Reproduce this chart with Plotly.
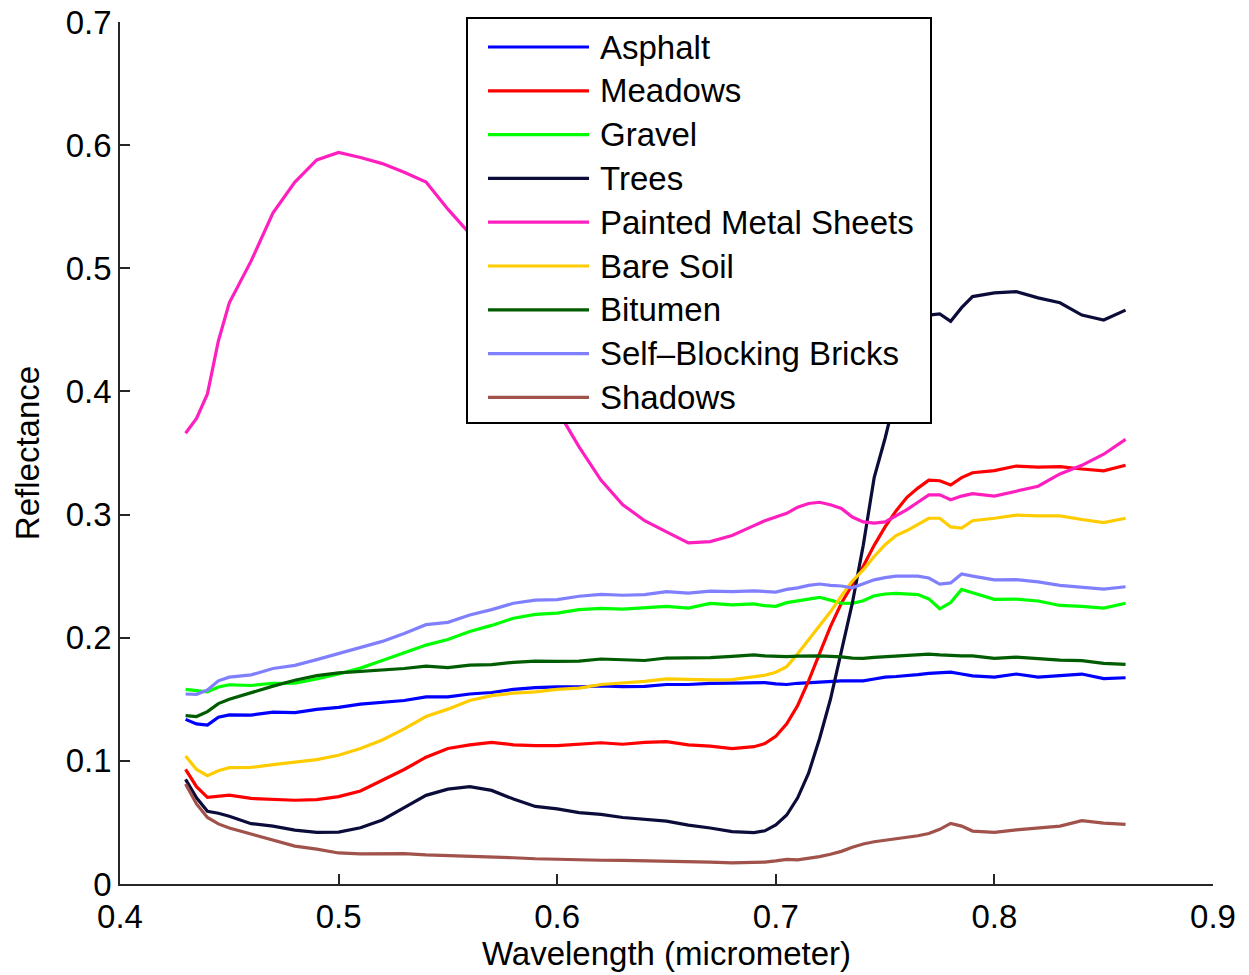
import plotly.graph_objects as go

# Wavelength samples (micrometer)
wavelength = [0.430, 0.435, 0.440, 0.445, 0.450, 0.460, 0.470, 0.480, 0.490, 0.500,
              0.510, 0.520, 0.530, 0.540, 0.550, 0.560, 0.570, 0.580, 0.590, 0.600,
              0.610, 0.620, 0.630, 0.640, 0.650, 0.660, 0.670, 0.680, 0.690, 0.695,
              0.700, 0.705, 0.710, 0.715, 0.720, 0.725, 0.730, 0.735, 0.740, 0.745,
              0.750, 0.755, 0.760, 0.765, 0.770, 0.775, 0.780, 0.785, 0.790, 0.800,
              0.810, 0.820, 0.830, 0.840, 0.850, 0.860]

asphalt = [0.1337, 0.130, 0.129, 0.1355, 0.1373, 0.1372, 0.1395, 0.1392, 0.1418, 0.1435,
           0.146, 0.1475, 0.149, 0.152, 0.152, 0.1543, 0.1555, 0.158, 0.1595, 0.160,
           0.160, 0.1608, 0.1603, 0.1605, 0.162, 0.162, 0.163, 0.1632, 0.1637, 0.1635,
           0.1625, 0.162, 0.163, 0.1635, 0.164, 0.165, 0.165, 0.165, 0.165, 0.1665,
           0.168, 0.1685, 0.169, 0.170, 0.171, 0.1715, 0.172, 0.1705, 0.169, 0.168,
           0.1705, 0.168, 0.169, 0.1705, 0.1668, 0.1675]

meadows = [0.093, 0.079, 0.0704, 0.071, 0.0722, 0.0695, 0.069, 0.068, 0.0685, 0.071,
           0.0755, 0.084, 0.093, 0.103, 0.110, 0.113, 0.115, 0.113, 0.1123, 0.1123,
           0.1135, 0.1147, 0.1135, 0.115, 0.1156, 0.113, 0.112, 0.110, 0.1115, 0.114,
           0.120, 0.130, 0.145, 0.165, 0.187, 0.209, 0.228, 0.243, 0.258, 0.275,
           0.290, 0.303, 0.314, 0.3215, 0.328, 0.3275, 0.324, 0.330, 0.334, 0.3357,
           0.3394, 0.3385, 0.339, 0.337, 0.3355, 0.340]

gravel = [0.158, 0.1572, 0.156, 0.160, 0.1618, 0.1612, 0.163, 0.1632, 0.1665, 0.1705,
          0.1753, 0.1815, 0.188, 0.194, 0.1985, 0.205, 0.210, 0.2158, 0.219, 0.220,
          0.2228, 0.2238, 0.2232, 0.2245, 0.2255, 0.224, 0.2279, 0.2266, 0.2274, 0.226,
          0.2255, 0.2285, 0.230, 0.2315, 0.2328, 0.2305, 0.228, 0.2279, 0.230, 0.234,
          0.2355, 0.236, 0.2355, 0.235, 0.2315, 0.2235, 0.2285, 0.2392, 0.2365, 0.2312,
          0.2314, 0.2298, 0.2262, 0.2255, 0.224, 0.228]

trees = [0.085, 0.070, 0.059, 0.0575, 0.055, 0.049, 0.047, 0.0438, 0.042, 0.0422,
         0.0457, 0.052, 0.062, 0.072, 0.077, 0.079, 0.076, 0.069, 0.063, 0.061,
         0.058, 0.0565, 0.054, 0.0525, 0.051, 0.0478, 0.0455, 0.0425, 0.0417, 0.0432,
         0.048, 0.056, 0.070, 0.090, 0.118, 0.150, 0.190, 0.228, 0.275, 0.330,
         0.362, 0.398, 0.428, 0.450, 0.462, 0.463, 0.457, 0.468, 0.477, 0.480,
         0.481, 0.476, 0.472, 0.462, 0.458, 0.466]

painted_metal = [0.366, 0.378, 0.398, 0.441, 0.472, 0.506, 0.545, 0.570, 0.588, 0.594,
                 0.590, 0.585, 0.578, 0.570, 0.548, 0.528, 0.498, 0.462, 0.423, 0.385,
                 0.355, 0.328, 0.308, 0.295, 0.286, 0.277, 0.278, 0.283, 0.291, 0.295,
                 0.298, 0.301, 0.306, 0.309, 0.310, 0.308, 0.305, 0.298, 0.294, 0.293,
                 0.294, 0.299, 0.304, 0.310, 0.316, 0.316, 0.312, 0.315, 0.317, 0.315,
                 0.319, 0.323, 0.333, 0.340, 0.349, 0.361]

bare_soil = [0.104, 0.093, 0.088, 0.092, 0.0945, 0.0947, 0.097, 0.099, 0.101, 0.1045,
             0.110, 0.117, 0.126, 0.136, 0.142, 0.149, 0.153, 0.155, 0.156, 0.158,
             0.159, 0.162, 0.1632, 0.1645, 0.1665, 0.166, 0.1657, 0.166, 0.168, 0.1695,
             0.172, 0.1765, 0.187, 0.198, 0.209, 0.221, 0.234, 0.246, 0.255, 0.266,
             0.2755, 0.283, 0.287, 0.292, 0.297, 0.297, 0.290, 0.289, 0.295, 0.297,
             0.2996, 0.299, 0.299, 0.296, 0.2935, 0.297]

bitumen = [0.1367, 0.136, 0.140, 0.1465, 0.150, 0.1555, 0.1607, 0.1655, 0.1692, 0.1714,
           0.1727, 0.1735, 0.175, 0.177, 0.1757, 0.1778, 0.1782, 0.180, 0.181, 0.1808,
           0.181, 0.1827, 0.1818, 0.1815, 0.1835, 0.1835, 0.1838, 0.1848, 0.186, 0.1852,
           0.1846, 0.1846, 0.185, 0.1852, 0.1852, 0.1848, 0.1845, 0.1835, 0.1833, 0.184,
           0.1846, 0.1846, 0.1852, 0.186, 0.1867, 0.186, 0.1853, 0.1852, 0.1852, 0.1832,
           0.1842, 0.1827, 0.1818, 0.1814, 0.1792, 0.1784]

bricks = [0.1543, 0.154, 0.1575, 0.165, 0.168, 0.1698, 0.175, 0.1775, 0.1822, 0.187,
          0.1917, 0.197, 0.2035, 0.2106, 0.2125, 0.2185, 0.2228, 0.228, 0.2305, 0.231,
          0.2337, 0.2352, 0.2345, 0.235, 0.2374, 0.2362, 0.2378, 0.2375, 0.2381, 0.2375,
          0.237, 0.2392, 0.2405, 0.2425, 0.2436, 0.2425, 0.242, 0.2405, 0.244, 0.247,
          0.2488, 0.250, 0.250, 0.250, 0.2485, 0.2435, 0.2445, 0.2517, 0.250, 0.247,
          0.2472, 0.2453, 0.2425, 0.241, 0.2395, 0.2414]

shadows = [0.0812, 0.065, 0.054, 0.0488, 0.0455, 0.0405, 0.0352, 0.0308, 0.0283, 0.0252,
           0.0244, 0.0245, 0.0247, 0.0237, 0.0232, 0.0227, 0.0221, 0.0213, 0.0205, 0.020,
           0.0195, 0.0193, 0.0192, 0.019, 0.0188, 0.0183, 0.0178, 0.0171, 0.0172, 0.0178,
           0.0188, 0.020, 0.0196, 0.0208, 0.0222, 0.0242, 0.0265, 0.0298, 0.0325, 0.0343,
           0.0355, 0.0368, 0.0379, 0.0392, 0.041, 0.0444, 0.0492, 0.047, 0.043, 0.042,
           0.0439, 0.0453, 0.047, 0.0514, 0.0495, 0.0484]

class_names = ["Asphalt", "Meadows", "Gravel", "Trees", "Painted Metal Sheets",
               "Bare Soil", "Bitumen", "Self\u2013Blocking Bricks", "Shadows"]
class_values = [asphalt, meadows, gravel, trees, painted_metal,
                bare_soil, bitumen, bricks, shadows]
class_colors = ["#0000ff", "#ff0000", "#00ff00", "#0c0c3a", "#ff1fbf",
                "#ffcc00", "#005c00", "#8080ff", "#a0524b"]

FONT = "Liberation Sans, Arial, Helvetica, sans-serif"
FS = 33
LW = 3.2

fig = go.Figure()
for name, vals, col in zip(class_names, class_values, class_colors):
    fig.add_trace(go.Scatter(x=wavelength, y=vals, mode="lines", name=name,
                             line=dict(color=col, width=LW), showlegend=False))

# Hand-built legend box with long line samples
W, H = 1249, 975
L, R, T, B = 120, 36, 22, 91
pw, ph = W - L - R, H - T - B


def px(x):
    return (x - L) / pw


def py(y):
    return (H - B - y) / ph


shapes = [dict(type="rect", xref="paper", yref="paper",
               x0=px(467), x1=px(931), y0=py(423), y1=py(18),
               line=dict(color="black", width=2), fillcolor="white", layer="above")]
annotations = []
row0, step = 47, 43.8
for i, (name, col) in enumerate(zip(class_names, class_colors)):
    yy = py(row0 + i * step)
    shapes.append(dict(type="line", xref="paper", yref="paper",
                       x0=px(488), x1=px(589), y0=yy, y1=yy,
                       line=dict(color=col, width=LW), layer="above"))
    annotations.append(dict(text=name, xref="paper", yref="paper", x=px(598), y=yy,
                            xanchor="left", yanchor="middle", showarrow=False,
                            font=dict(family=FONT, size=FS, color="black")))

axis_common = dict(showline=True, linecolor="#262626", linewidth=1.5, mirror=False,
                   ticks="inside", ticklen=10, tickwidth=1.5, tickcolor="#262626",
                   showgrid=False, zeroline=False,
                   tickfont=dict(family=FONT, size=FS, color="black"))

fig.update_layout(
    width=W, height=H,
    margin=dict(l=L, r=R, t=T, b=B, autoexpand=False),
    plot_bgcolor="white", paper_bgcolor="white",
    shapes=shapes, annotations=annotations,
    xaxis=dict(range=[0.4, 0.9], tickvals=[0.4, 0.5, 0.6, 0.7, 0.8, 0.9],
               ticktext=["0.4", "0.5", "0.6", "0.7", "0.8", "0.9"],
               ticklabelstandoff=3,
               title=dict(text="Wavelength (micrometer)", standoff=8,
                          font=dict(family=FONT, size=FS, color="black")),
               **axis_common),
    yaxis=dict(range=[0, 0.7], tickvals=[0, 0.1, 0.2, 0.3, 0.4, 0.5, 0.6, 0.7],
               ticktext=["0", "0.1", "0.2", "0.3", "0.4", "0.5", "0.6", "0.7"],
               title=dict(text="Reflectance", standoff=16,
                          font=dict(family=FONT, size=FS, color="black")),
               **axis_common),
)

fig.write_html("out.html")
